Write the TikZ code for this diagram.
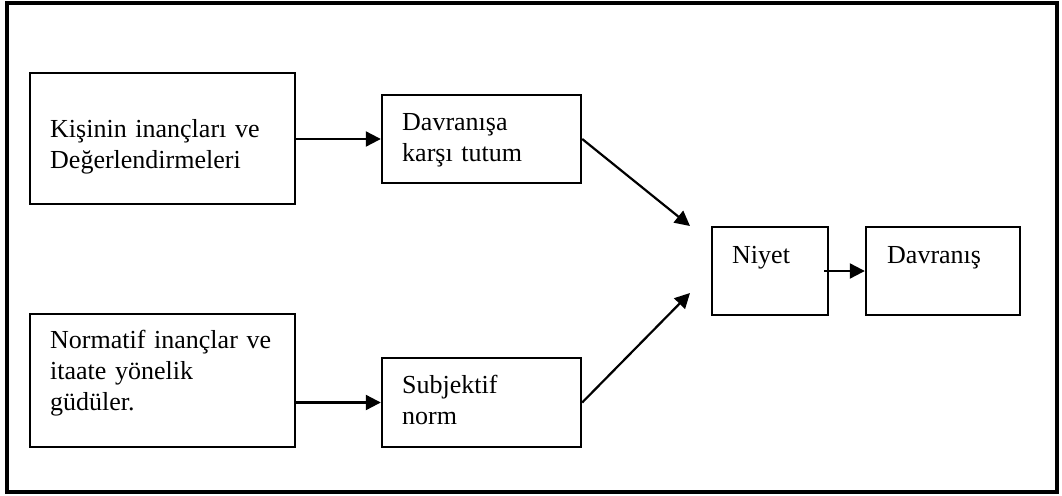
\documentclass[tikz,border=0pt]{standalone}
\usepackage{fontspec}
\setmainfont{Liberation Serif}
\usetikzlibrary{arrows.meta}
\begin{document}
\begin{tikzpicture}[x=1pt,y=-1pt,
  box/.style={draw, line width=2.4pt, rectangle, inner sep=0pt},
  label text/.style={anchor=base west, inner sep=0pt, align=left, text width=260pt,
    font=\fontsize{26}{31}\selectfont},
  link/.style={line width=2.2pt, -{Triangle[length=15pt,width=15pt]}}]
  \useasboundingbox (0,0) rectangle (1062,495);
  % outer frame
  \node[draw, line width=3.2pt, minimum width=1050pt, minimum height=489pt, inner sep=0pt] (frame) at (532,247.5) {};

  % boxes
  \node[box, minimum width=265pt, minimum height=131pt] (beliefs) at (162.5,138.5) {};
  \node[box, minimum width=199pt, minimum height=88pt] (attitude) at (481.5,139) {};
  \node[box, minimum width=116pt, minimum height=88pt] (intention) at (770,271) {};
  \node[box, minimum width=154pt, minimum height=88pt] (behaviour) at (943,271) {};
  \node[box, minimum width=265pt, minimum height=133pt] (normbeliefs) at (162.5,380.5) {};
  \node[box, minimum width=199pt, minimum height=89pt] (subjnorm) at (481.5,402.5) {};

  % texts
  \node[label text] (tbeliefs) at (50,137) {Kişinin inançları ve\\Değerlendirmeleri};
  \node[label text] (tattitude) at (402,130) {Davranışa\\karşı tutum};
  \node[label text] (tnormbeliefs) at (50,348) {Normatif inançlar ve\\itaate yönelik\\güdüler.};
  \node[label text] (tsubjnorm) at (402,393) {Subjektif\\norm};
  \node[label text] (tintention) at (732,263) {Niyet};
  \node[label text] (tbehaviour) at (887,263) {Davranış};

  % arrow tips that stop short of the intention box
  \coordinate (upperend) at (690,226);
  \coordinate (lowerend) at (690,293);

  % connectors
  \draw[link] (beliefs.east |- attitude.west) -- (attitude.west);
  \draw[link] (normbeliefs.east |- subjnorm.west) -- (subjnorm.west);
  \draw[link] (attitude.east) -- (upperend);
  \draw[link] (subjnorm.east) -- (lowerend);
  \draw[link] ([xshift=-5pt]intention.east) -- (behaviour.west);
\end{tikzpicture}
\end{document}
